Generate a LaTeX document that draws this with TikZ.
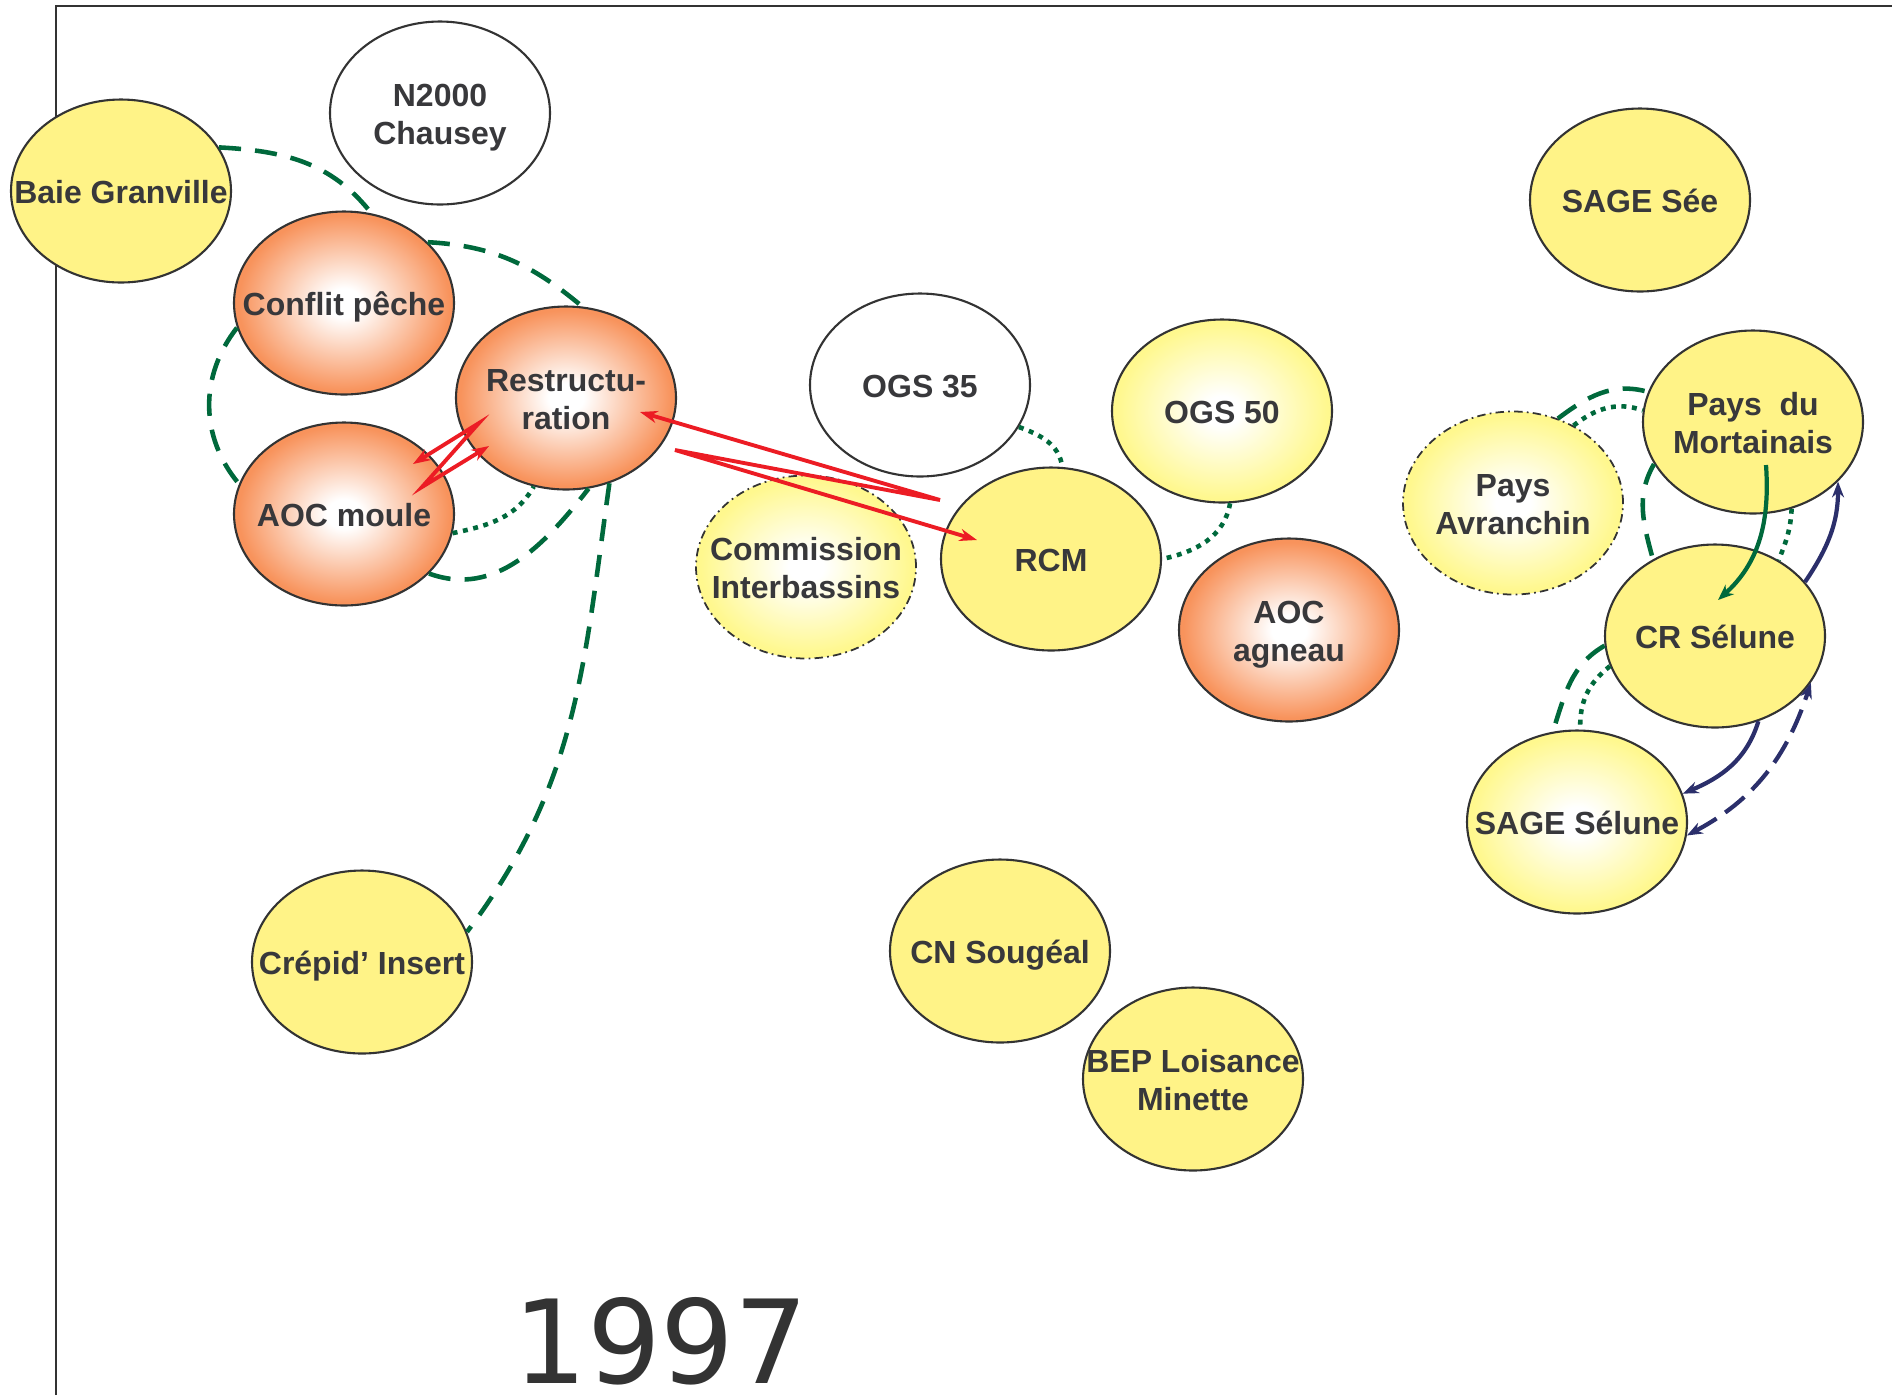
\documentclass[tikz,border=0pt]{standalone}
\usepackage{fontspec}
\setmainfont{Liberation Sans}
\newfontfamily\yearfont{DejaVu Sans}
\usetikzlibrary{shapes.geometric,arrows.meta,calc}

\definecolor{frameC}{HTML}{333333}
\definecolor{inkC}{HTML}{38383B}
\definecolor{yelC}{HTML}{FFF387}
\definecolor{paleC}{HTML}{FFF88E}
\definecolor{orgC}{HTML}{F8935C}
\definecolor{grnC}{HTML}{00693C}
\definecolor{navC}{HTML}{2B2F6B}
\definecolor{redC}{HTML}{EC1C24}

\pgfdeclareradialshading{orgglow}{\pgfpoint{0bp}{0bp}}{color(0bp)=(white); color(4bp)=(white); color(24bp)=(orgC); color(50bp)=(orgC)}
\pgfdeclareradialshading{yelglow}{\pgfpoint{0bp}{0bp}}{color(0bp)=(white); color(4bp)=(white); color(24bp)=(paleC); color(50bp)=(paleC)}

\newcommand{\lbl}[1]{\makebox[0pt]{\raisebox{-1.4pt}[\height][\depth]{\begin{tabular}{@{}c@{}}#1\end{tabular}}}}

\begin{document}
\begin{tikzpicture}[x=0.1mm,y=0.1mm,
 blob/.style={ellipse,draw=frameC,line width=0.6pt,minimum width=22mm,minimum height=18.3mm,
   inner sep=0pt,text=inkC,font=\fontsize{9.1}{10.6}\selectfont\bfseries},
 flat/.style={blob,fill=yelC},
 pale/.style={blob,shading=yelglow},
 warm/.style={blob,shading=orgglow},
 plain/.style={blob,fill=white},
 vague/.style={pale,line width=0.5pt,dash pattern=on 2.4pt off 1.2pt on 0.5pt off 1.2pt},
 dashlink/.style={draw=grnC,line width=1.3pt,dash pattern=on 6.3pt off 4pt},
 dotlink/.style={draw=grnC,line width=1.3pt,dash pattern=on 1.4pt off 1.6pt},
 redpush/.style={draw=redC,line width=1.1pt,>={Stealth[length=5pt,width=3.5pt]},<->},
 navyflow/.style={draw=navC,line width=1.2pt,>={Stealth[length=4.5pt,width=3.4pt]},->},
 navydash/.style={navyflow,<->,dash pattern=on 7pt off 3pt},
 greenflow/.style={draw=grnC,line width=1.2pt,>={Stealth[length=4.5pt,width=3.6pt]},->}]

 \useasboundingbox (0,0) rectangle (1892,-1395);
 \draw[frameC,line width=0.5pt] (56,-1395) -- (56,-6) -- (1892,-6);

 % west side
 \node[flat] (baie) at (121,-191) {\lbl{Baie Granville}};
 \node[plain] (chausey) at (440,-113) {\lbl{N2000\\Chausey}};
 \node[warm] (conflit) at (344,-303) {\lbl{Conflit pêche}};
 \node[warm] (restr) at (566,-398) {\lbl{Restructu-\\ration}};
 \node[warm] (aocm) at (344,-514) {\lbl{AOC moule}};
 \node[flat] (crepid) at (362,-962) {\lbl{Crépid’ Insert}};

 % middle
 \node[plain] (ogsA) at (920,-385) {\lbl{OGS 35}};
 \node[pale] (ogsB) at (1222,-411) {\lbl{OGS 50}};
 \node[vague] (cib) at (806,-567) {\lbl{Commission\\Interbassins}};
 \node[flat] (rcm) at (1051,-559) {\lbl{RCM}};
 \node[warm] (aoca) at (1289,-630) {\lbl{AOC\\agneau}};
 \node[flat] (cns) at (1000,-951) {\lbl{CN Sougéal}};
 \node[flat] (bep) at (1193,-1079) {\lbl{BEP Loisance\\Minette}};

 % east side
 \node[flat] (see) at (1640,-200) {\lbl{SAGE Sée}};
 \node[vague] (avr) at (1513,-503) {\lbl{Pays\\Avranchin}};
 \node[flat] (mort) at (1753,-422) {\lbl{Pays\ \ du\\Mortainais}};
 \node[flat] (crs) at (1715,-636) {\lbl{CR Sélune}};
 \node[pale] (sel) at (1577,-822) {\lbl{SAGE Sélune}};

 \node[text=frameC,font=\yearfont\fontsize{33}{36}\selectfont,anchor=base,text depth=0pt,inner sep=0pt] (yr) at (661,-1383) {1997};

 \path
 (baie.24) edge[dashlink,out=-3,in=128] (conflit.73)
 (conflit.36) edge[dashlink,out=-3,in=140] (restr.80)
 (conflit.193) edge[dashlink,out=232,in=130] (aocm.164)
 (aocm.-35) edge[dashlink,out=-20,in=232] (restr.-76)
 (restr.-63) edge[dashlink,out=-98,in=53] (crepid.16)
 (aocm.-10) edge[dotlink,out=12,in=240] (restr.250)
 (ogsA.-23) edge[dotlink,out=-20,in=98] (rcm.83)
 (ogsB.-85) edge[dotlink,out=-100,in=12] (rcm.0)
 ;
 \draw[redpush] ($(aocm)+(69,50)$) -- ($(restr)+(-87,-25)$) -- ($(aocm)+(78,27)$) -- ($(restr)+(-77,-48)$);
 \draw[redpush] ($(restr)+(74,-14)$) -- ($(rcm)+(-111,59)$) -- ($(restr)+(109,-52)$) -- ($(rcm)+(-74,19)$);

 \path
 (avr.62) edge[dashlink,out=37,in=164] (mort.164)
 (avr.52) edge[dotlink,out=38,in=160] (mort.174)
 (mort.203) edge[dashlink,out=240,in=105] (crs.129)
 (mort.-66) edge[dotlink,out=-93,in=68] (crs.50)
 (crs.185) edge[dashlink,out=210,in=72] (sel.105)
 (crs.196) edge[dotlink,out=218,in=92] (sel.88)
 (crs.31) edge[navyflow,out=56,in=-90] (mort.-35)
 (crs.-63) edge[navyflow,out=-107,in=23] (sel.15)
 (sel.-7) edge[navydash,out=28,in=252] (crs.-26)
 ;
 \draw[greenflow] ($(mort)+(13,-43)$) to[out=-86,in=42] ($(crs)+(3,36)$);
\end{tikzpicture}
\end{document}
